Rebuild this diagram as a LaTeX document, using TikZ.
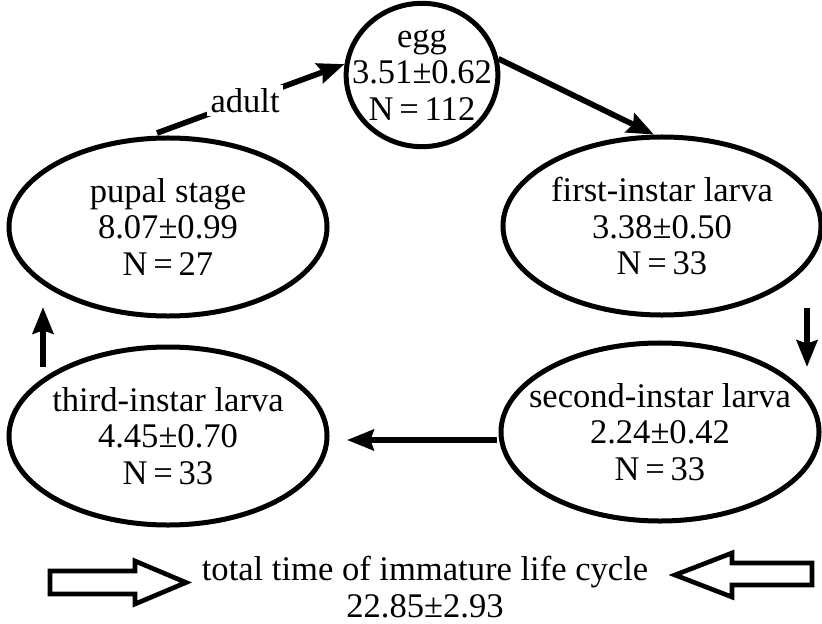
\documentclass[tikz,border=0pt]{standalone}
\usepackage{fontspec}
\setmainfont{Liberation Serif}
\usetikzlibrary{arrows.meta,shapes.geometric}
\newcommand{\stagefont}{\fontsize{29.5pt}{31pt}\selectfont}
\tikzset{
	stage/.style={draw, ellipse, line width=0.15cm, minimum width=9.54cm, minimum height=5.34cm, inner xsep=-1.2cm, inner ysep=0pt, align=center, font=\stagefont},
	flow/.style={line width=0.17cm, -{Stealth[length=0.8cm, width=0.62cm, inset=0.1cm]}},
	hollow/.style={line width=0.14cm, line join=miter},
}

\begin{document}
\begin{tikzpicture}[x=0.03cm, y=-0.03cm]
		%%%%% START %%%%%
		\useasboundingbox (0,0) rectangle (822,623);
		
		\node[stage, minimum width=4.55cm, minimum height=4.3cm] (egg) at (422, 75) {egg\\3.51±0.62\\N\,=\,112};
		\node[stage] (first) at (662, 226) {first-instar larva\\3.38±0.50\\N\,=\,33};
		\node[stage] (second) at (660, 432) {second-instar larva\\2.24±0.42\\N\,=\,33};
		\node[stage] (third) at (168, 436) {third-instar larva\\4.45±0.70\\N\,=\,33};
		\node[stage] (pupal) at (168, 227) {pupal stage\\8.07±0.99\\N\,=\,27};
		
		\coordinate (adultstart) at (157, 133);
		\draw[flow] (adultstart) -- node[pos=0.47, fill=white, inner sep=3pt, font=\stagefont] (adult) {adult} (egg.172);
		\draw[flow] (egg.12) -- (first.95);
		
		\coordinate (firstout) at (807, 308);
		\coordinate (secondin) at (807, 367);
		\draw[flow] (firstout) -- (secondin);
		
		\coordinate (secondout) at (497, 440);
		\coordinate (thirdin) at (347, 440);
		\draw[flow] (secondout) -- (thirdin);
		
		\coordinate (thirdout) at (43, 367);
		\coordinate (pupalin) at (43, 307);
		\draw[flow] (thirdout) -- (pupalin);
		
		\draw[hollow] (50, 571) -- (135, 571) -- (135, 561) -- (186, 582.5) -- (135, 604) -- (135, 594) -- (50, 594) -- cycle;
		\draw[hollow] (812, 563) -- (732, 563) -- (732, 553) -- (675, 575) -- (732, 597) -- (732, 585) -- (812, 585) -- cycle;
		
		\node[font=\stagefont, align=center, inner sep=0pt] (total) at (425, 587) {total time of immature life cycle\\22.85±2.93};
		
		%%%%% END %%%%%
\end{tikzpicture}
\end{document}
